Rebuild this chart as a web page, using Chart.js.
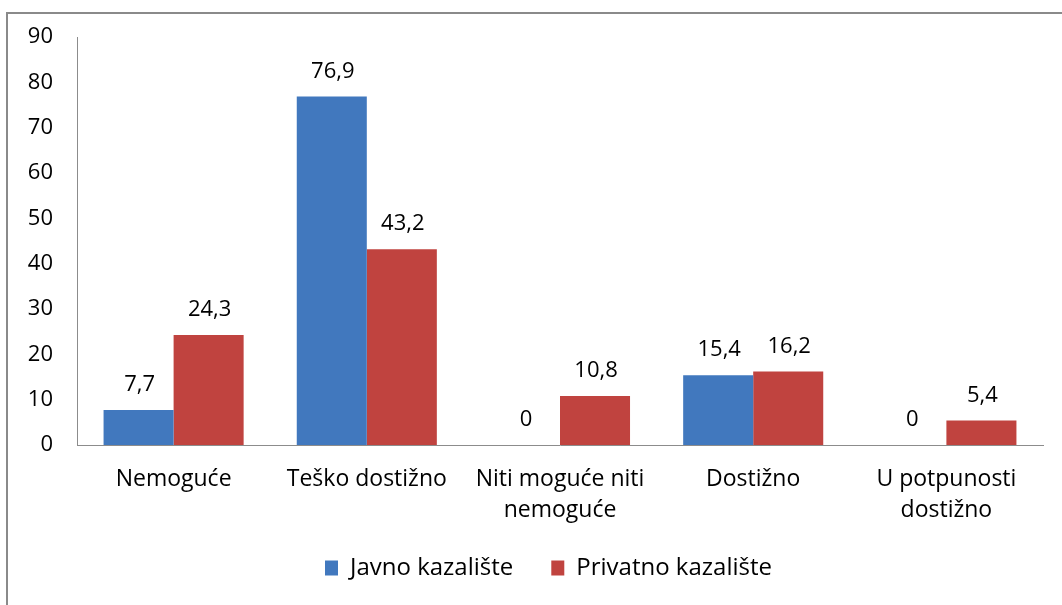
<!DOCTYPE html>
<html>
<head>
<meta charset="utf-8">
<script src="https://cdn.jsdelivr.net/npm/chart.js@4/dist/chart.umd.min.js"></script>
<style>
    html, body { margin: 0; padding: 0; background: #fff; overflow: hidden; }
    .wrap { position: relative; width: 1062px; height: 605px; }
    .frame {
        position: absolute; left: 6px; top: 12px; width: 1100px; height: 700px;
        border-left: 2px solid #8a8a8a; border-top: 2px solid #8a8a8a;
    }
    canvas { position: absolute; left: 0; top: 0; }
</style>
</head>
<body>
<div class="wrap">
    <div class="frame"></div>
    <canvas id="chart" width="1062" height="605"></canvas>
</div>
<script>
// values
const categories = [
    "Nemoguće",
    "Teško dostižno",
    ["Niti moguće niti", "nemoguće"],
    "Dostižno",
    ["U potpunosti", "dostižno"]
];
const javno = [7.7, 76.9, 0, 15.4, 0];
const privatno = [24.3, 43.2, 10.8, 16.2, 5.4];
const seriesNames = ["Javno kazalište", "Privatno kazalište"];

const FONT = "'Open Sans', sans-serif";

// numbers above the bars, with a decimal comma
const valueLabels = {
    id: "valueLabels",
    afterDatasetsDraw(chart) {
        const c = chart.ctx;
        c.save();
        c.font = `22px ${FONT}`;
        c.fillStyle = "#000";
        c.textAlign = "center";
        c.textBaseline = "alphabetic";
        chart.data.datasets.forEach((ds, i) => {
            chart.getDatasetMeta(i).data.forEach((bar, j) => {
                const txt = String(ds.data[j]).replace(".", ",");
                c.fillText(txt, bar.x + 1, bar.y - 19);
            });
        });
        c.restore();
    }
};

// wide gaps between legend items need a big padding, so nudge the box back up
const legendNudge = {
    id: "legendNudge",
    afterLayout(chart) {
        const lg = chart.legend;
        lg.top -= 15; lg.bottom -= 15;
        lg.left += 22; lg.right += 22;
    }
};

new Chart(document.getElementById("chart").getContext("2d"), {
    type: "bar",
    data: {
        labels: categories,
        datasets: [{
            label: seriesNames[0],
            data: javno,
            backgroundColor: "#4178BE"
        }, {
            label: seriesNames[1],
            data: privatno,
            backgroundColor: "#C0433F"
        }]
    },
    options: {
        responsive: false,
        animation: false,
        categoryPercentage: 0.725,
        barPercentage: 1,
        layout: { padding: { left: 10, top: 33, right: 19, bottom: 0 } },
        scales: {
            x: {
                grid: { display: false, drawTicks: false },
                border: { display: true, color: "#8c8c8c", width: 1 },
                ticks: {
                    color: "#000",
                    font: { family: FONT, size: 23, lineHeight: 1.35 },
                    padding: 19,
                    maxRotation: 0,
                    autoSkip: false
                },
                afterFit: s => { s.height = 88; }
            },
            y: {
                min: 0,
                max: 90,
                grid: { display: false, drawTicks: false },
                border: { display: true, color: "#8c8c8c", width: 1 },
                ticks: {
                    stepSize: 10,
                    color: "#000",
                    font: { family: FONT, size: 22 },
                    padding: 24
                },
                afterFit: s => { s.width = 67; }
            }
        },
        plugins: {
            legend: {
                position: "bottom",
                labels: {
                    color: "#000",
                    font: { family: FONT, size: 24 },
                    boxWidth: 13,
                    boxHeight: 15,
                    padding: 38
                }
            },
            tooltip: { enabled: false }
        }
    },
    plugins: [valueLabels, legendNudge]
});
</script>
</body>
</html>
